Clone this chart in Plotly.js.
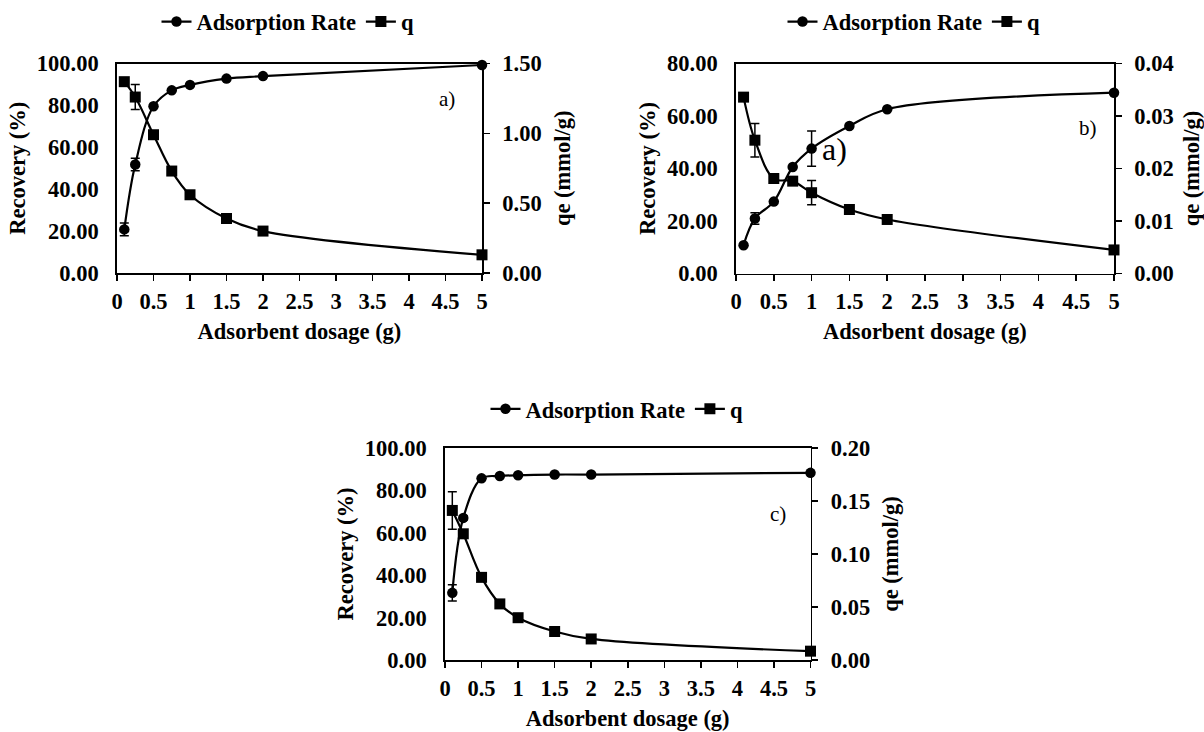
<!DOCTYPE html>
<html>
<head>
<meta charset="utf-8">
<script src="https://cdn.plot.ly/plotly-3.0.1.min.js"></script>
<style>html,body{margin:0;padding:0;background:#fff;}#chart{width:1204px;height:732px;}</style>
</head>
<body>
<div id="chart"></div>
<script>
// ---- data ----
const dosage = [0.1, 0.25, 0.5, 0.75, 1, 1.5, 2, 5];

const a_rate     = [20.8, 51.8, 79.6, 87.2, 89.8, 92.8, 94.0, 99.3];
const a_rate_err = [3.0, 3.0, 0, 0, 0, 0, 0, 0];
const a_q        = [1.37, 1.26, 0.99, 0.73, 0.56, 0.39, 0.30, 0.13];
const a_q_err    = [0, 0.09, 0, 0, 0, 0, 0, 0];

const b_rate     = [10.8, 21.0, 27.4, 40.6, 47.6, 56.2, 62.6, 68.9];
const b_rate_err = [0, 2.2, 0, 0, 6.7, 0, 0, 0];
const b_q        = [0.0336, 0.0254, 0.0181, 0.0176, 0.0154, 0.0122, 0.0103, 0.0045];
const b_q_err    = [0, 0.0032, 0, 0, 0.0023, 0, 0, 0];

const c_rate     = [31.7, 67.0, 85.6, 86.7, 87.1, 87.4, 87.4, 88.2];
const c_rate_err = [3.8, 1.0, 0, 0, 0, 0, 0, 0];
const c_q        = [0.141, 0.119, 0.078, 0.053, 0.040, 0.027, 0.020, 0.0085];
const c_q_err    = [0.0176, 0, 0, 0, 0, 0, 0, 0];

const seriesNames = ['Adsorption Rate', 'q'];
const xTitle = 'Adsorbent dosage (g)';
const yLeftTitle = 'Recovery (%)';
const yRightTitle = 'qe (mmol/g)';
const panelLabels = ['a)', 'b)', 'c)'];

// ---- styling ----
const FONT = 'Liberation Serif';
const fs = 22.5;
function tr(x, y, err, name, sym, sz, xa, ya, leg) {
  return {
    x: x, y: y, name: name, type: 'scatter', mode: 'lines+markers',
    xaxis: xa, yaxis: ya, legend: leg, cliponaxis: false,
    line: {color: '#000', width: 2.2, shape: 'spline', smoothing: 1},
    marker: {symbol: sym, size: sz, color: '#000'},
    error_y: {type: 'data', array: err, visible: true, color: '#000', thickness: 1.5, width: 4.5},
    hoverinfo: 'x+y'
  };
}
const data = [
  tr(dosage, a_rate, a_rate_err, seriesNames[0], 'circle', 10.5, 'x', 'y', 'legend'),
  tr(dosage, a_q, a_q_err, seriesNames[1], 'square', 11, 'x', 'y2', 'legend'),
  tr(dosage, b_rate, b_rate_err, seriesNames[0], 'circle', 10.5, 'x2', 'y3', 'legend2'),
  tr(dosage, b_q, b_q_err, seriesNames[1], 'square', 11, 'x2', 'y4', 'legend2'),
  tr(dosage, c_rate, c_rate_err, seriesNames[0], 'circle', 10.5, 'x3', 'y5', 'legend3'),
  tr(dosage, c_q, c_q_err, seriesNames[1], 'square', 11, 'x3', 'y6', 'legend3')
];

const W = 1204, H = 732;
const px = v => v / W, py = v => 1 - v / H;
const bold = () => ({family: FONT, size: fs, color: '#000', weight: 'bold'});

function xax(d0, d1, anchor) {
  return {
    domain: [px(d0), px(d1)], anchor: anchor, range: [0, 5], dtick: 0.5, tick0: 0,
    showline: true, linecolor: '#000', linewidth: 1.8, mirror: true,
    ticks: 'outside', ticklen: 6, tickwidth: 1.5, tickcolor: '#000', ticklabelstandoff: 1,
    showgrid: false, zeroline: false, tickfont: bold(),
    title: {text: xTitle, font: bold(), standoff: 10}, automargin: false
  };
}
function yleft(t0, t1, anchor, maxv, dt) {
  return {
    domain: [py(t1), py(t0)], anchor: anchor, range: [0, maxv], dtick: dt, tickformat: '.2f',
    showline: true, linecolor: '#000', linewidth: 1.8, ticks: '', ticklabelstandoff: 12,
    showgrid: false, zeroline: false, tickfont: bold(),
    title: {text: yLeftTitle, font: bold(), standoff: 5}, automargin: false
  };
}
function yright(overlay, anchor, maxv, dt, fmt) {
  return {
    overlaying: overlay, side: 'right', anchor: anchor, range: [0, maxv], dtick: dt, tickformat: fmt,
    showline: true, linecolor: '#000', linewidth: 1.8,
    ticks: 'outside', ticklen: 6, tickwidth: 1.5, tickcolor: '#000', ticklabelstandoff: 8,
    showgrid: false, zeroline: false, tickfont: bold(),
    title: {text: yRightTitle, font: bold(), standoff: 13}, automargin: false
  };
}
function legend(xc, yc) {
  return {
    orientation: 'h', x: px(xc), y: py(yc), xanchor: 'center', yanchor: 'middle',
    font: bold(), bgcolor: 'rgba(0,0,0,0)', itemwidth: 30, tracegroupgap: 0
  };
}

const layout = {
  width: W, height: H, margin: {l: 0, r: 0, t: 0, b: 0},
  paper_bgcolor: '#fff', plot_bgcolor: '#fff', showlegend: true,
  font: {family: FONT, color: '#000'},
  xaxis: xax(117, 482, 'y'),
  yaxis: yleft(61.7, 271.7, 'x', 100, 20),
  yaxis2: yright('y', 'x', 1.5, 0.5, '.2f'),
  xaxis2: xax(736, 1114, 'y3'),
  yaxis3: yleft(61.7, 272.3, 'x2', 80, 20),
  yaxis4: yright('y3', 'x2', 0.04, 0.01, '.2f'),
  xaxis3: xax(445, 810.5, 'y5'),
  yaxis5: yleft(447, 660, 'x3', 100, 20),
  yaxis6: yright('y5', 'x3', 0.2, 0.05, '.2f'),
  legend: legend(288, 20),
  legend2: legend(914, 20),
  legend3: legend(617, 408.3),
  annotations: [
    {xref: 'x', yref: 'y', x: 4.52, y: 83, text: panelLabels[0], showarrow: false, font: {family: FONT, size: 21, color: '#000'}},
    {xref: 'x2', yref: 'y3', x: 4.65, y: 55.5, text: panelLabels[1], showarrow: false, font: {family: FONT, size: 21, color: '#000'}},
    {xref: 'x2', yref: 'y3', x: 1.3, y: 47.3, text: panelLabels[0], showarrow: false, font: {family: FONT, size: 32, color: '#000'}},
    {xref: 'x3', yref: 'y5', x: 4.55, y: 69, text: panelLabels[2], showarrow: false, font: {family: FONT, size: 21, color: '#000'}}
  ]
};

Plotly.newPlot('chart', data, layout, {displayModeBar: false, staticPlot: true});
</script>
</body>
</html>
